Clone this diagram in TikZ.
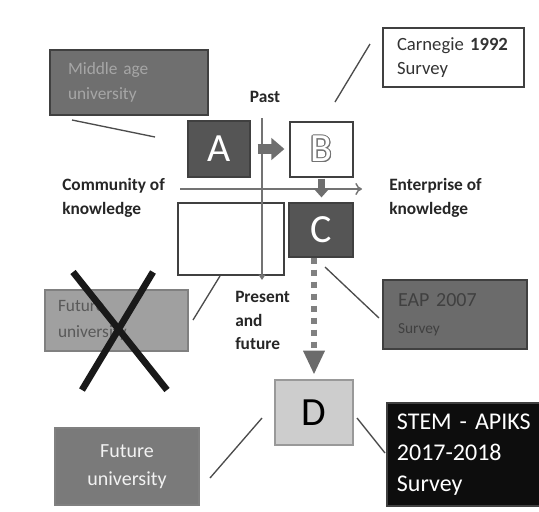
\documentclass[tikz,border=0pt]{standalone}
\usepackage{fontspec}
\setmainfont{Carlito}
\usepackage{contour}
\contourlength{0.7pt}
\usetikzlibrary{arrows.meta,positioning}
\definecolor{darkbox}{RGB}{85,85,85}
\definecolor{midbox}{RGB}{111,111,111}
\definecolor{eapbox}{RGB}{107,107,107}
\definecolor{lightbox}{RGB}{160,160,160}
\definecolor{futbox}{RGB}{122,122,122}
\definecolor{dbox}{RGB}{205,205,205}
\definecolor{arrowgray}{RGB}{110,110,110}

\begin{document}
\begin{tikzpicture}[x=0.75pt,y=-0.75pt,inner sep=0pt]
\tikzstyle{box}=[rectangle, draw=black!75, line width=0.9pt]
\tikzstyle{letter}=[font=\fontsize{30}{32}\selectfont]
\tikzstyle{axislabel}=[font=\fontsize{13}{18.5}\selectfont\bfseries, text=black!85, align=left]
\tikzstyle{callout}=[draw=black!70, line width=1pt]
\tikzstyle{axis}=[draw=black!55, line width=1.1pt]
\tikzstyle{block}=[draw=arrowgray, line width=7.5pt, -{Triangle[length=9.75pt,width=16pt]}]
\tikzstyle{cross}=[draw=black!90, line width=5pt]
\useasboundingbox[fill=white] (0,0) rectangle (539,511);

% surveys and universities
\node[box, fill=midbox, minimum width=118.5pt, minimum height=48.75pt, inner xsep=13.5pt, text width=91.5pt, align=left, text=black!35, font=\fontsize{13}{18.5}\selectfont] (mid) at (129,82.5) {Middle age\\university};
\node[box, fill=white, minimum width=105.75pt, minimum height=44.25pt, inner xsep=10.5pt, text width=84.75pt, align=left, text=black!80, font=\fontsize{14}{18.5}\selectfont] (carn) at (453.5,57.5) {Carnegie \textbf{1992}\\Survey};
\node[box, fill=eapbox, minimum width=108pt, minimum height=51.75pt, inner xsep=11.25pt, text width=85.5pt, align=left, text=black!75, font=\fontsize{15}{20}\selectfont] (eap) at (455,314.5) {EAP 2007\\{\fontsize{11.5}{14}\selectfont Survey}};
\node[box, draw=black!50, fill=lightbox, minimum width=107.25pt, minimum height=45.75pt, inner xsep=9.75pt, text width=87.75pt, align=left, text=black!65, font=\fontsize{13}{19.5}\selectfont] (oldfut) at (116.5,320.5) {Future\\university};
\node[box, fill=black!95, minimum width=117.75pt, minimum height=77.25pt, inner xsep=7.5pt, text width=110pt, align=left, text=white, font=\fontsize{18}{23.25}\selectfont] (stem) at (470.3,454.5) {STEM - APIKS\\2017-2018\\Survey};
\node[box, draw=black!50, fill=futbox, minimum width=108pt, minimum height=57.75pt, align=center, text=black!5, font=\fontsize{15}{21}\selectfont] (fut) at (127,466.5) {Future\\university};

% quadrants
\node[box, fill=darkbox, minimum width=46.5pt, minimum height=42pt, letter, text=white] (A) at (219,149) {A};
\node[box, fill=white, minimum width=47.25pt, minimum height=41.25pt, letter, text=white] (B) at (321.5,149.5) {\contour{black!55}{B}};
\node[box, fill=white, minimum width=79.5pt, minimum height=54pt] (empty) at (231,239) {};
\node[box, fill=darkbox, minimum width=48pt, minimum height=40.5pt, letter, text=white] (C) at (321,230) {C};
\node[box, draw=black!40, fill=dbox, minimum width=58.5pt, minimum height=48.75pt, letter, text=black] (D) at (314,412.5) {D};

% axes
\coordinate (pastend) at (262,118);
\coordinate (nowend) at (262,280);
\coordinate (commend) at (180,189);
\coordinate (entend) at (362,189);
\draw[axis, -{Triangle[length=4pt,width=5pt]}] (pastend) -- (nowend);
\draw[axis, -{To[length=5pt,width=9pt]}] (commend) -- (entend);
\node[axislabel] (past) at (265,97) {Past};
\node[axislabel, anchor=west] (comm) at (62,198) {Community of\\knowledge};
\node[axislabel, anchor=west] (ent) at (389,198) {Enterprise of\\knowledge};
\node[axislabel, anchor=west, font=\fontsize{13}{17.6}\selectfont\bfseries] (now) at (235,320.5) {Present\\and\\future};

% moves between quadrants
\draw[block, shorten <=5.25pt, shorten >=3.75pt] (A.east) -- (A.east -| B.west);
\draw[block, line width=5pt, -{Triangle[length=7pt,width=12pt]}, shorten <=0.75pt, shorten >=3.75pt] (B.south) -- (B.south |- C.north);
\draw[draw=black!50, line width=4.5pt, dash pattern=on 4.5pt off 4.5pt, -{Triangle[length=18pt,width=15pt,color=black!58]}, shorten >=3.5pt] (D.north |- C.south) -- (D.north);

% callout lines
\coordinate (m1) at (72,120);
\coordinate (m2) at (155,137);
\coordinate (c1) at (335,102);
\coordinate (c2) at (370,44);
\coordinate (e1) at (220,276);
\coordinate (e2) at (193,320);
\coordinate (p1) at (325,267);
\coordinate (p2) at (379,318);
\coordinate (d1) at (262,418);
\coordinate (d2) at (210,478);
\coordinate (s1) at (357,418);
\coordinate (s2) at (385,453);
\draw[callout] (m1) -- (m2);
\draw[callout] (c1) -- (c2);
\draw[callout] (e1) -- (e2);
\draw[callout] (p1) -- (p2);
\draw[callout] (d1) -- (d2);
\draw[callout] (s1) -- (s2);

% crossed out
\coordinate (x1) at (73,272);
\coordinate (x2) at (167,390);
\coordinate (x3) at (153,272);
\coordinate (x4) at (82,390);
\draw[cross] (x1) -- (x2);
\draw[cross] (x3) -- (x4);
\end{tikzpicture}
\end{document}
